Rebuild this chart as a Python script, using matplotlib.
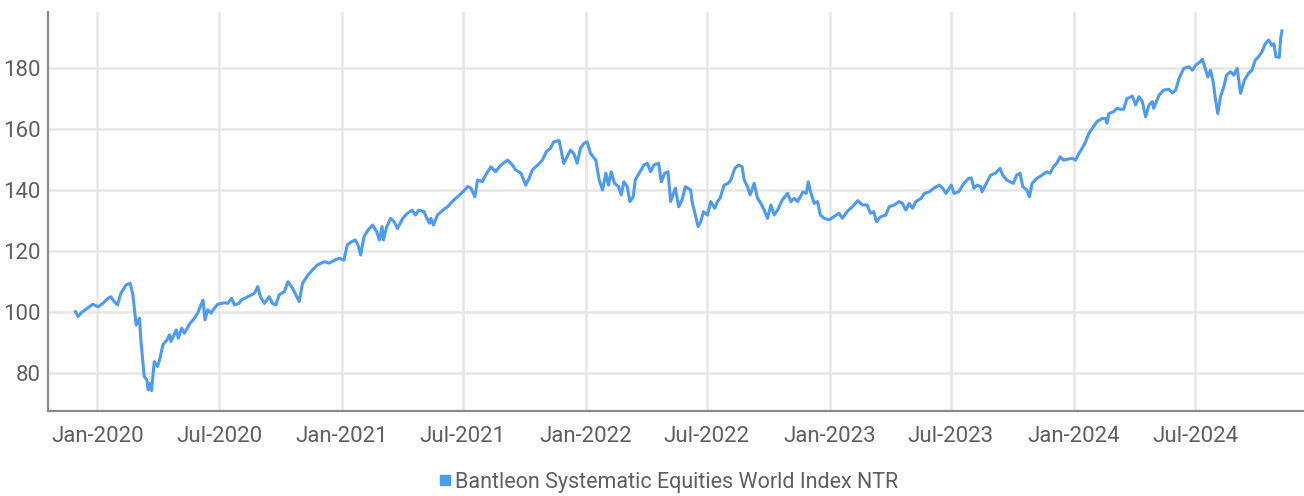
import matplotlib
matplotlib.use("Agg")
import matplotlib.pyplot as plt
import matplotlib.dates as mdates
from matplotlib.lines import Line2D
import pandas as pd

series_name = "Bantleon Systematic Equities World Index NTR"

dates = [
    "2019-11-29", "2019-12-03", "2019-12-08", "2019-12-15", "2019-12-25", "2020-01-02", "2020-01-09", "2020-01-17",
    "2020-01-21", "2020-01-26", "2020-01-31", "2020-02-05", "2020-02-13", "2020-02-19", "2020-02-23", "2020-02-28",
    "2020-03-04", "2020-03-06", "2020-03-11", "2020-03-15", "2020-03-17", "2020-03-20", "2020-03-22", "2020-03-26",
    "2020-03-31", "2020-04-03", "2020-04-08", "2020-04-14", "2020-04-18", "2020-04-20", "2020-04-28", "2020-05-01",
    "2020-05-06", "2020-05-10", "2020-05-18", "2020-05-25", "2020-05-30", "2020-06-07", "2020-06-10", "2020-06-14",
    "2020-06-19", "2020-06-24", "2020-06-29", "2020-07-09", "2020-07-14", "2020-07-20", "2020-07-24", "2020-07-31",
    "2020-08-03", "2020-08-13", "2020-08-23", "2020-08-28", "2020-09-01", "2020-09-07", "2020-09-14", "2020-09-19",
    "2020-09-24", "2020-09-29", "2020-10-07", "2020-10-12", "2020-10-19", "2020-10-24", "2020-10-29", "2020-11-03",
    "2020-11-11", "2020-11-18", "2020-11-25", "2020-12-06", "2020-12-13", "2020-12-21", "2020-12-28", "2021-01-04",
    "2021-01-09", "2021-01-15", "2021-01-21", "2021-01-25", "2021-01-29", "2021-02-03", "2021-02-09", "2021-02-16",
    "2021-02-22", "2021-02-26", "2021-03-02", "2021-03-04", "2021-03-09", "2021-03-15", "2021-03-20", "2021-03-25",
    "2021-04-02", "2021-04-09", "2021-04-16", "2021-04-21", "2021-04-26", "2021-05-04", "2021-05-07", "2021-05-12",
    "2021-05-14", "2021-05-18", "2021-05-24", "2021-06-01", "2021-06-08", "2021-06-15", "2021-06-23", "2021-07-01",
    "2021-07-08", "2021-07-13", "2021-07-19", "2021-07-23", "2021-07-30", "2021-08-04", "2021-08-12", "2021-08-19",
    "2021-08-27", "2021-09-06", "2021-09-13", "2021-09-18", "2021-09-26", "2021-10-03", "2021-10-08", "2021-10-13",
    "2021-10-21", "2021-10-28", "2021-11-03", "2021-11-09", "2021-11-14", "2021-11-22", "2021-11-25", "2021-11-29",
    "2021-12-04", "2021-12-09", "2021-12-14", "2021-12-19", "2021-12-24", "2021-12-29", "2022-01-03", "2022-01-08",
    "2022-01-16", "2022-01-21", "2022-01-26", "2022-01-31", "2022-02-04", "2022-02-08", "2022-02-13", "2022-02-19",
    "2022-02-23", "2022-02-27", "2022-03-04", "2022-03-08", "2022-03-13", "2022-03-16", "2022-03-23", "2022-03-29",
    "2022-04-03", "2022-04-08", "2022-04-13", "2022-04-20", "2022-04-24", "2022-04-29", "2022-05-04", "2022-05-08",
    "2022-05-15", "2022-05-20", "2022-05-25", "2022-05-30", "2022-06-07", "2022-06-09", "2022-06-14", "2022-06-18",
    "2022-06-22", "2022-06-26", "2022-07-02", "2022-07-07", "2022-07-13", "2022-07-17", "2022-07-21", "2022-07-27",
    "2022-08-02", "2022-08-06", "2022-08-12", "2022-08-18", "2022-08-23", "2022-08-26", "2022-08-31", "2022-09-04",
    "2022-09-10", "2022-09-15", "2022-09-20", "2022-09-25", "2022-09-30", "2022-10-05", "2022-10-10", "2022-10-15",
    "2022-10-22", "2022-10-30", "2022-11-04", "2022-11-09", "2022-11-14", "2022-11-22", "2022-11-27", "2022-11-30",
    "2022-12-04", "2022-12-09", "2022-12-14", "2022-12-18", "2022-12-24", "2022-12-31", "2023-01-07", "2023-01-15",
    "2023-01-20", "2023-01-27", "2023-02-04", "2023-02-12", "2023-02-19", "2023-02-26", "2023-03-03", "2023-03-08",
    "2023-03-12", "2023-03-18", "2023-03-26", "2023-03-31", "2023-04-08", "2023-04-15", "2023-04-20", "2023-04-25",
    "2023-04-30", "2023-05-05", "2023-05-10", "2023-05-18", "2023-05-23", "2023-05-30", "2023-06-06", "2023-06-14",
    "2023-06-19", "2023-06-24", "2023-07-02", "2023-07-06", "2023-07-13", "2023-07-21", "2023-07-28", "2023-08-01",
    "2023-08-05", "2023-08-10", "2023-08-15", "2023-08-17", "2023-08-22", "2023-08-30", "2023-09-06", "2023-09-13",
    "2023-09-17", "2023-09-23", "2023-09-28", "2023-10-03", "2023-10-08", "2023-10-13", "2023-10-17", "2023-10-23",
    "2023-10-27", "2023-10-31", "2023-11-07", "2023-11-15", "2023-11-22", "2023-11-27", "2023-12-02", "2023-12-07",
    "2023-12-12", "2023-12-17", "2023-12-25", "2023-12-30", "2024-01-04", "2024-01-09", "2024-01-14", "2024-01-19",
    "2024-01-24", "2024-01-29", "2024-02-05", "2024-02-13", "2024-02-18", "2024-02-20", "2024-02-23", "2024-03-01",
    "2024-03-06", "2024-03-11", "2024-03-16", "2024-03-21", "2024-03-29", "2024-04-03", "2024-04-08", "2024-04-13",
    "2024-04-18", "2024-04-23", "2024-04-28", "2024-04-30", "2024-05-08", "2024-05-15", "2024-05-23", "2024-05-28",
    "2024-06-02", "2024-06-07", "2024-06-14", "2024-06-22", "2024-06-27", "2024-07-02", "2024-07-09", "2024-07-12",
    "2024-07-17", "2024-07-20", "2024-07-24", "2024-07-28", "2024-08-01", "2024-08-04", "2024-08-08", "2024-08-13",
    "2024-08-17", "2024-08-23", "2024-08-28", "2024-09-02", "2024-09-07", "2024-09-13", "2024-09-19", "2024-09-24",
    "2024-09-29", "2024-10-04", "2024-10-09", "2024-10-14", "2024-10-19", "2024-10-24", "2024-10-27", "2024-10-30",
    "2024-11-04", "2024-11-06", "2024-11-08",
]

values = [
    100.1, 98.5, 99.8, 100.9, 102.5, 101.7, 102.8, 104.5,
    105.0, 103.4, 102.3, 106.1, 108.9, 109.4, 105.6, 95.7,
    97.9, 90.8, 78.8, 77.7, 74.4, 76.6, 74.2, 83.7,
    82.1, 84.3, 89.2, 90.8, 92.5, 90.3, 94.1, 91.4,
    94.7, 93.0, 96.1, 97.9, 99.6, 103.9, 97.4, 100.7,
    99.6, 101.2, 102.5, 103.0, 102.8, 104.5, 102.3, 102.8,
    103.9, 105.0, 106.1, 108.3, 105.0, 102.8, 105.0, 102.8,
    102.3, 105.6, 106.7, 109.9, 107.8, 105.6, 103.4, 109.4,
    112.1, 113.8, 115.4, 116.5, 116.0, 117.0, 117.6, 117.0,
    122.0, 123.0, 123.6, 122.0, 118.7, 124.7, 126.9, 128.5,
    126.3, 123.6, 128.0, 123.6, 128.0, 130.7, 129.6, 127.4,
    130.7, 132.4, 133.4, 131.8, 133.4, 132.9, 131.2, 129.1,
    130.7, 128.5, 131.8, 133.4, 134.5, 136.2, 137.8, 139.4,
    141.1, 140.6, 137.8, 143.3, 142.7, 144.9, 147.6, 146.0,
    148.2, 149.8, 148.2, 146.6, 145.5, 141.6, 143.8, 146.6,
    148.2, 149.8, 152.6, 153.7, 155.8, 156.2, 153.1, 148.7,
    150.9, 153.1, 152.0, 148.8, 153.7, 155.3, 155.8, 152.0,
    149.8, 143.3, 140.0, 145.5, 141.6, 146.0, 142.2, 141.1,
    138.4, 142.7, 141.1, 136.2, 137.8, 143.3, 146.0, 148.2,
    148.8, 146.0, 148.2, 148.8, 142.7, 145.5, 146.0, 136.2,
    140.6, 134.5, 136.7, 141.1, 140.0, 136.2, 131.8, 128.0,
    129.6, 132.9, 131.8, 136.2, 134.0, 136.2, 137.3, 141.6,
    142.2, 143.3, 147.1, 148.2, 147.6, 143.3, 141.1, 138.4,
    142.2, 137.3, 135.6, 133.4, 130.7, 135.1, 131.8, 133.4,
    136.7, 138.9, 136.2, 137.3, 136.2, 139.4, 138.9, 142.7,
    138.9, 135.6, 136.2, 131.8, 130.7, 130.2, 131.2, 132.4,
    130.7, 132.9, 134.5, 136.5, 135.1, 135.1, 132.4, 132.9,
    129.6, 131.2, 131.8, 134.5, 135.1, 136.2, 135.6, 133.4,
    135.6, 134.0, 136.2, 137.3, 138.9, 139.4, 140.6, 141.6,
    140.6, 138.9, 141.6, 138.9, 139.4, 142.2, 143.8, 144.0,
    140.6, 141.6, 141.1, 139.4, 141.6, 144.9, 145.5, 147.1,
    144.9, 143.3, 142.7, 142.2, 144.9, 145.5, 141.1, 140.0,
    137.8, 142.2, 143.8, 144.9, 146.0, 145.5, 147.6, 148.8,
    150.9, 149.8, 150.2, 150.4, 149.8, 152.0, 153.7, 155.8,
    158.6, 160.2, 162.4, 163.5, 163.5, 161.9, 165.1, 165.7,
    166.8, 166.5, 166.5, 170.0, 170.8, 167.9, 170.6, 169.0,
    164.0, 167.9, 169.0, 166.8, 171.1, 172.8, 173.0, 171.9,
    172.8, 176.6, 179.9, 180.4, 179.3, 181.0, 182.1, 182.9,
    179.3, 177.1, 179.3, 175.5, 169.0, 165.1, 170.6, 173.9,
    177.7, 178.8, 177.7, 179.9, 171.7, 176.1, 178.3, 179.3,
    182.6, 183.7, 185.3, 188.0, 189.2, 187.5, 188.0, 183.7,
    183.5, 189.7, 192.2,
]

x_ticks = ["2020-01-01", "2020-07-01", "2021-01-01", "2021-07-01", "2022-01-01",
           "2022-07-01", "2023-01-01", "2023-07-01", "2024-01-01", "2024-07-01"]
y_ticks = [80, 100, 120, 140, 160, 180]

LINE = "#4d9af5"
GRID = "#e6e6e6"
SPINE = "#8a8a8a"
TEXT = "#5f5f5f"

plt.rcParams["font.family"] = ["Roboto", "DejaVu Sans"]

W, H = 1304, 496
fig = plt.figure(figsize=(W / 100, H / 100), dpi=100)
ax = fig.add_axes([48 / W, 1 - 411 / H, 1 - 48 / W, (411 - 12) / H])

ax.plot(pd.to_datetime(dates), values, color=LINE, lw=2.2, solid_joinstyle="round", zorder=3)

ax.set_xlim(pd.Timestamp("2019-10-19"), pd.Timestamp("2024-12-11"))
ax.set_ylim(67.5, 198.4)
ax.set_xticks(pd.to_datetime(x_ticks))
ax.xaxis.set_major_formatter(mdates.DateFormatter("%b-%Y"))
ax.set_yticks(y_ticks)

ax.grid(True, color=GRID, lw=1.8)
ax.set_axisbelow(True)
ax.tick_params(axis="both", length=0, labelsize=16, labelcolor=TEXT)
ax.tick_params(axis="x", pad=10.5)
ax.tick_params(axis="y", pad=5)

for s in ["top", "right"]:
    ax.spines[s].set_visible(False)
for s in ["left", "bottom"]:
    ax.spines[s].set_color(SPINE)
    ax.spines[s].set_linewidth(1.6)

handle = Line2D([], [], marker="s", linestyle="none", color=LINE, markersize=7)
leg = fig.legend([handle], [series_name], loc="center", bbox_to_anchor=(0.5115, 0.028),
                 frameon=False, fontsize=15.5, handletextpad=0.05, handlelength=0.8,
                 borderaxespad=0, borderpad=0)
for t in leg.get_texts():
    t.set_color(TEXT)

fig.savefig("out.png", dpi=100)
